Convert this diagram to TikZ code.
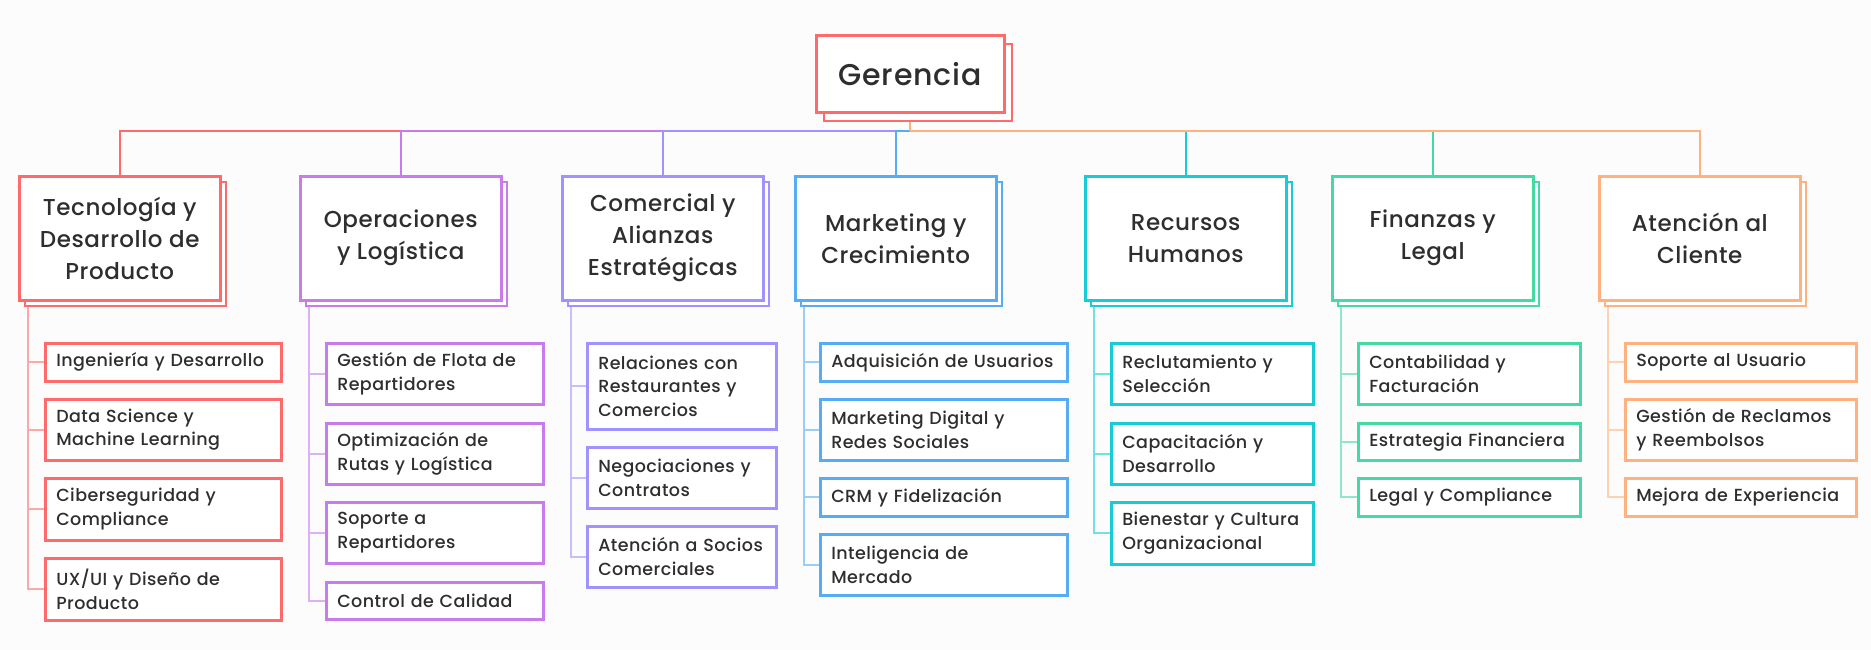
\documentclass[tikz,border=0pt]{standalone}
\usepackage{fontspec}
\IfFontExistsTF{Poppins Medium}{\setmainfont{Poppins Medium}[LetterSpace=2.5]}{\setmainfont{Poppins}[LetterSpace=2.5]}
\usetikzlibrary{shadows,backgrounds}
\definecolor{cRed}{HTML}{FF6B6B}
\definecolor{cPur}{HTML}{C97BEB}
\definecolor{cLav}{HTML}{A093FF}
\definecolor{cBlu}{HTML}{57ADF5}
\definecolor{cTea}{HTML}{17CCD5}
\definecolor{cGre}{HTML}{45D9A3}
\definecolor{cOra}{HTML}{FFB17F}
\definecolor{txt}{HTML}{2E2E2E}
\definecolor{bgc}{HTML}{FCFCFC}
\begin{document}
\begin{tikzpicture}[x=1pt,y=-1pt,
 topbox/.style={draw=cRed, line width=3pt, fill=white, minimum width=188pt, minimum height=77pt, inner sep=0pt, text=txt, font=\fontsize{30}{34}\selectfont, copy shadow={shadow xshift=8pt, shadow yshift=-8pt, draw=cRed, fill=white, line width=2.5pt}},
 lone/.style={draw=#1, line width=2.5pt, fill=white, minimum width=201pt, minimum height=124pt, anchor=north west, inner sep=0pt, align=center, text=txt, font=\fontsize{23}{32}\selectfont, copy shadow={shadow xshift=6pt, shadow yshift=-6pt, draw=#1, fill=white, line width=2pt}},
 ltwo/.style={draw=#1, line width=2.5pt, fill=white, anchor=north west, inner xsep=11pt, inner ysep=0pt, align=left, text=txt, font=\fontsize{17.5}{23.5}\selectfont},
 busline/.style={draw=#1, line width=2.5pt},
 trunk/.style={draw=#1!60, line width=2pt},
]
\begin{scope}[on background layer]
\fill[bgc] (0,0) rectangle (1871,650);
\end{scope}
\useasboundingbox (0,0) rectangle (1871,650);

% top
\node[topbox] (g) at (910,74.5) {Gerencia};
\coordinate (bus) at (910,131);

% level 1
\node[lone=cRed] (t1) at (18,175) {Tecnología y\\Desarrollo de\\Producto};
\node[lone=cPur] (t2) at (299,175) {Operaciones\\y Logística};
\node[lone=cLav] (t3) at (561,175) {Comercial y\\Alianzas\\Estratégicas};
\node[lone=cBlu] (t4) at (794,175) {Marketing y\\Crecimiento};
\node[lone=cTea] (t5) at (1084,175) {Recursos\\Humanos};
\node[lone=cGre] (t6) at (1331,175) {Finanzas y\\Legal};
\node[lone=cOra] (t7) at (1598,175) {Atención al\\Cliente};

% level 2
\node[ltwo=cRed, text width=214pt, minimum height=38pt] (a1) at (44,342) {Ingeniería y Desarrollo};
\node[ltwo=cRed, text width=214pt, minimum height=61pt] (a2) at (44,398) {Data Science y\\Machine Learning};
\node[ltwo=cRed, text width=214pt, minimum height=62pt] (a3) at (44,477) {Ciberseguridad y\\Compliance};
\node[ltwo=cRed, text width=214pt, minimum height=62pt] (a4) at (44,557) {UX/UI y Diseño de\\Producto};

\node[ltwo=cPur, text width=195pt, minimum height=61pt] (b1) at (325,342) {Gestión de Flota de\\Repartidores};
\node[ltwo=cPur, text width=195pt, minimum height=61pt] (b2) at (325,422) {Optimización de\\Rutas y Logística};
\node[ltwo=cPur, text width=195pt, minimum height=61pt] (b3) at (325,501) {Soporte a\\Repartidores};
\node[ltwo=cPur, text width=195pt, minimum height=37pt] (b4) at (325,581) {Control de Calidad};

\node[ltwo=cLav, text width=167pt, minimum height=86pt] (c1) at (586,342) {Relaciones con\\Restaurantes y\\Comercios};
\node[ltwo=cLav, text width=167pt, minimum height=61pt] (c2) at (586,446) {Negociaciones y\\Contratos};
\node[ltwo=cLav, text width=167pt, minimum height=61pt] (c3) at (586,525) {Atención a Socios\\Comerciales};

\node[ltwo=cBlu, text width=225pt, minimum height=38pt] (d1) at (819,342) {Adquisición de Usuarios};
\node[ltwo=cBlu, text width=225pt, minimum height=61pt] (d2) at (819,398) {Marketing Digital y\\Redes Sociales};
\node[ltwo=cBlu, text width=225pt, minimum height=38pt] (d3) at (819,477) {CRM y Fidelización};
\node[ltwo=cBlu, text width=225pt, minimum height=61pt] (d4) at (819,533) {Inteligencia de\\Mercado};

\node[ltwo=cTea, text width=180pt, minimum height=61pt] (e1) at (1110,342) {Reclutamiento y\\Selección};
\node[ltwo=cTea, text width=180pt, minimum height=61pt] (e2) at (1110,422) {Capacitación y\\Desarrollo};
\node[ltwo=cTea, text width=180pt, minimum height=62pt] (e3) at (1110,501) {Bienestar y Cultura\\Organizacional};

\node[ltwo=cGre, text width=200pt, minimum height=61pt] (f1) at (1357,342) {Contabilidad y\\Facturación};
\node[ltwo=cGre, text width=200pt, minimum height=37pt] (f2) at (1357,422) {Estrategia Financiera};
\node[ltwo=cGre, text width=200pt, minimum height=38pt] (f3) at (1357,477) {Legal y Compliance};

\node[ltwo=cOra, text width=209pt, minimum height=38pt] (h1) at (1624,342) {Soporte al Usuario};
\node[ltwo=cOra, text width=209pt, minimum height=61pt] (h2) at (1624,398) {Gestión de Reclamos\\y Reembolsos};
\node[ltwo=cOra, text width=209pt, minimum height=38pt] (h3) at (1624,477) {Mejora de Experiencia};

% trunk tops
\coordinate (k1) at (28,305);
\coordinate (k2) at (309,305);
\coordinate (k3) at (571,305);
\coordinate (k4) at (804,305);
\coordinate (k5) at (1094,305);
\coordinate (k6) at (1341,305);
\coordinate (k7) at (1608,305);

\begin{scope}[on background layer]
\draw[busline=cRed] (t1.north) |- (bus);
\draw[busline=cPur] (t2.north) |- (bus);
\draw[busline=cLav] (t3.north) |- (bus);
\draw[busline=cBlu] (t4.north) |- (bus);
\draw[busline=cTea] (t5.north) |- (bus);
\draw[busline=cGre] (t6.north) |- (bus);
\draw[busline=cOra] (t7.north) |- (bus);
\draw[busline=cOra] (g.south) -- (bus);

\foreach \n in {a1,a2,a3,a4} \draw[trunk=cRed] (k1) |- (\n.west);
\foreach \n in {b1,b2,b3,b4} \draw[trunk=cPur] (k2) |- (\n.west);
\foreach \n in {c1,c2,c3} \draw[trunk=cLav] (k3) |- (\n.west);
\foreach \n in {d1,d2,d3,d4} \draw[trunk=cBlu] (k4) |- (\n.west);
\foreach \n in {e1,e2,e3} \draw[trunk=cTea] (k5) |- (\n.west);
\foreach \n in {f1,f2,f3} \draw[trunk=cGre] (k6) |- (\n.west);
\foreach \n in {h1,h2,h3} \draw[trunk=cOra] (k7) |- (\n.west);
\end{scope}
\end{tikzpicture}
\end{document}
